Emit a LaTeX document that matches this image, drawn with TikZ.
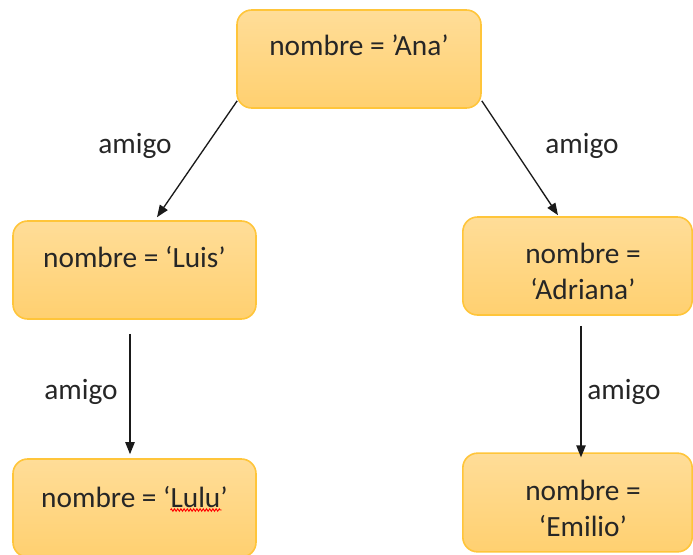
\documentclass[tikz,border=0pt]{standalone}
\usepackage{fontspec}
\setmainfont{Carlito}
\usetikzlibrary{arrows.meta,decorations.pathmorphing}
\definecolor{boxtop}{HTML}{FFDD98}
\definecolor{boxbot}{HTML}{FFD070}
\definecolor{boxline}{HTML}{FFC53A}
\definecolor{arrcol}{HTML}{1A1A1A}
\tikzset{
  box/.style={draw=boxline, line width=1.2pt, rounded corners=11pt,
    top color=boxtop, bottom color=boxbot, rectangle, inner sep=0pt},
  txt/.style={font=\fontsize{22}{27}\selectfont, text=black!85, align=center, inner sep=0pt},
  lbl/.style={font=\fontsize{22}{27}\selectfont, text=black!85, inner sep=0pt},
  arr/.style={draw=arrcol, line width=1pt, -{Triangle[length=9pt,width=7pt]}},
  squiggle/.style={draw=red, line width=0.7pt, decorate,
    decoration={zigzag, amplitude=0.9pt, segment length=2.4pt}}
}
\begin{document}
\begin{tikzpicture}[x=0.75pt,y=-0.75pt]
\useasboundingbox (0,0) rectangle (693,554);
% boxes
\node[box, minimum width=183pt, minimum height=73.5pt] (ana) at (359,59) {};
\node[box, minimum width=182.25pt, minimum height=73.5pt] (luis) at (134.5,270) {};
\node[box, minimum width=172pt, minimum height=73.5pt] (adr) at (577.5,266) {};
\node[box, minimum width=182.25pt, minimum height=73.5pt] (lulu) at (134.5,508) {};
\node[box, minimum width=172pt, minimum height=74pt] (emi) at (577.5,502.5) {};
% texts
\node[txt] (tana) at (359,45) {nombre = ’Ana’};
\node[txt] (tluis) at (134.5,257) {nombre = ‘Luis’};
\node[txt] (tadr) at (583,271.5) {nombre =\\‘Adriana’};
\node[txt] (tlulu) at (134.5,497) {nombre = ‘Lulu’};
\node[txt] (temi) at (583,508) {nombre =\\‘Emilio’};
% spell-check underline
\draw[squiggle] ([shift={(36,13)}]tlulu.center) -- ([shift={(87,13)}]tlulu.center);
% connectors
\draw[arr] ([shift={(1,-8)}]ana.south west) -- ([shift={(22.5,-3)}]luis.north);
\draw[arr] ([shift={(0,-8)}]ana.south east) -- ([shift={(-19.5,-1)}]adr.north);
\draw[arr] ([shift={(-4.5,14)}]luis.south) -- ([shift={(-4.5,-4)}]lulu.north);
\draw[arr] ([shift={(3.5,10)}]adr.south) -- ([shift={(3.5,5)}]emi.north);
% labels
\node[lbl] (l1) at (135,146) {amigo};
\node[lbl] (l2) at (582,146) {amigo};
\node[lbl] (l3) at (81,392) {amigo};
\node[lbl] (l4) at (624,392) {amigo};
\end{tikzpicture}
\end{document}
